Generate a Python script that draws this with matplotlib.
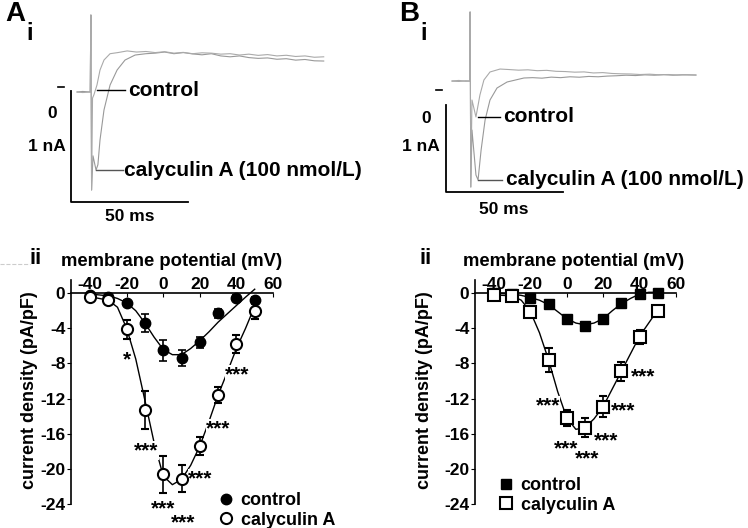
import matplotlib.pyplot as plt
from matplotlib.lines import Line2D

plt.rcParams['font.family'] = ['Liberation Sans', 'DejaVu Sans']
plt.rcParams['font.weight'] = 'bold'
plt.rcParams['font.size'] = 12
plt.rcParams['axes.unicode_minus'] = False

# ---- current-voltage data (mV, pA/pF) ----
volts = [-40, -30, -20, -10, 0, 10, 20, 30, 40, 50]

a_ctrl = [-0.2, -0.4, -1.1, -3.4, -6.5, -7.4, -5.6, -2.3, -0.5, -0.8]
a_ctrl_err = [0.2, 0.2, 0.3, 1.0, 1.2, 0.9, 0.65, 0.55, 0.3, 0.4]
a_caly = [-0.4, -0.8, -4.1, -13.3, -20.6, -21.1, -17.4, -11.6, -5.8, -2.0]
a_caly_err = [0.2, 0.3, 1.1, 2.2, 2.1, 1.5, 1.0, 0.95, 1.0, 0.9]

b_ctrl = [0.0, -0.1, -0.6, -1.25, -2.9, -3.7, -2.9, -1.1, -0.1, 0.0]
b_ctrl_err = [0.1, 0.1, 0.2, 0.2, 0.3, 0.3, 0.3, 0.2, 0.1, 0.1]
b_caly = [-0.2, -0.3, -2.1, -7.6, -14.2, -15.3, -12.95, -8.9, -4.95, -2.0]
b_caly_err = [0.1, 0.1, 0.6, 1.4, 0.95, 1.1, 1.2, 1.1, 0.8, 0.3]

# fitted curves
fit_v = [-40, -30, -25, -20, -15, -10, -5, 0, 5, 10, 15, 20, 25, 30, 35, 40, 45, 50]
a_ctrl_fit = [-0.1, -0.3, -0.6, -1.1, -2.0, -3.4, -5.0, -6.4, -7.0, -7.0, -6.3,
              -5.4, -4.4, -3.3, -2.35, -1.4, -0.45, 0.45]
a_caly_fit = [-0.4, -0.8, -1.6, -4.0, -7.5, -12.2, -17.0, -20.8, -21.8, -21.2, -19.6,
              -17.4, -14.6, -11.6, -9.0, -6.3, -4.0, -1.5]
b_ctrl_fit = [0.0, -0.1, -0.25, -0.5, -0.8, -1.3, -2.1, -2.9, -3.4, -3.6, -3.4,
              -2.9, -2.0, -1.2, -0.6, -0.1, 0.1, 0.1]
b_caly_fit = [-0.2, -0.3, -0.8, -2.1, -4.5, -7.6, -11.2, -14.2, -15.5, -15.3, -14.3,
              -12.9, -10.9, -8.9, -6.9, -4.9, -3.4, -1.9]

# significance marks (position in mV, pA/pF)
a_star_v = [-19.6, -9.3, 0.0, 10.9, 20.2, 30.0, 40.3]
a_star_y = [-7.6, -17.9, -24.6, -26.2, -21.1, -15.4, -9.3]
a_star_txt = ['*', '***', '***', '***', '***', '***', '***']
b_star_v = [-10.5, -0.5, 11.0, 21.5, 30.9, 41.9]
b_star_y = [-12.8, -17.7, -18.9, -16.8, -13.4, -9.5]

# ---- current traces (ms, nA) ----
a_caly_t = [2.6, 5.0, 8.2, 8.5, 8.8, 9.4, 10.7, 11.5, 12.4, 14.1, 16.7, 19.7, 23.1,
            27.4, 32.0, 36, 40, 44, 48, 52, 56, 60, 64, 68, 72, 76, 80, 84, 88, 92,
            96, 100, 104, 108]
a_caly_i = [-0.045, -0.04, -0.045, 0.649, -0.928, -0.62, -0.748, -0.70, -0.477, -0.207,
            0.018, 0.153, 0.243, 0.288, 0.300, 0.305, 0.315, 0.300, 0.310, 0.298, 0.290,
            0.300, 0.280, 0.272, 0.280, 0.265, 0.258, 0.262, 0.250, 0.255, 0.242, 0.248,
            0.236, 0.234]
a_ctrl_t = [2.6, 5.0, 8.2, 8.5, 8.8, 9.2, 9.8, 11.1, 12.4, 14.1, 16.7, 20, 24, 28, 32,
            36, 40, 44, 48, 52, 56, 60, 64, 68, 72, 76, 80, 84, 88, 92, 96, 100, 104, 108]
a_ctrl_i = [-0.045, -0.05, -0.045, 0.649, -0.928, -0.10, -0.07, 0.018, 0.153, 0.243,
            0.300, 0.310, 0.325, 0.315, 0.320, 0.310, 0.318, 0.305, 0.312, 0.300, 0.308,
            0.305, 0.296, 0.300, 0.288, 0.296, 0.285, 0.292, 0.280, 0.286, 0.275, 0.280,
            0.268, 0.272]

b_ctrl_t = [2.6, 5.5, 8.5, 10.1, 10.3, 10.6, 11.1, 12.8, 14.5, 16.2, 18.8, 23.1, 27,
            31, 35, 39, 43, 47, 51, 55, 59, 63, 67, 71, 75, 79, 83, 87, 91, 95, 99, 103, 106.8]
b_ctrl_i = [0.103, 0.11, 0.10, 0.103, 0.897, -1.115, -0.115, -0.31, -0.057, 0.115,
            0.207, 0.241, 0.235, 0.228, 0.232, 0.222, 0.226, 0.215, 0.212, 0.205, 0.208,
            0.196, 0.200, 0.190, 0.186, 0.184, 0.178, 0.182, 0.175, 0.178, 0.172, 0.175, 0.172]
b_caly_t = [2.6, 5.5, 8.5, 10.1, 10.3, 10.6, 11.1, 12.8, 13.7, 15.0, 16.7, 18.8, 21.8,
            26.1, 33.3, 37, 41, 45, 49, 53, 57, 61, 65, 69, 73, 77, 81, 85, 89, 93, 97,
            101, 106.8]
b_caly_i = [0.103, 0.10, 0.105, 0.103, 0.897, -1.115, -0.46, -0.977, -1.034, -0.69,
            -0.345, -0.115, 0.023, 0.092, 0.138, 0.142, 0.136, 0.148, 0.142, 0.152, 0.147,
            0.156, 0.152, 0.160, 0.164, 0.170, 0.166, 0.174, 0.170, 0.176, 0.170, 0.175, 0.172]

W, H = 748, 528
fig = plt.figure(figsize=(W / 100, H / 100), dpi=100)


def px(x, y):
    return x / W, 1 - y / H


def trace_panel(x0, ct, ci, kt, ki, xlim, ylim, bar_top, bar_bot, zmark,
                lbl0, lbl1, lbl50, cptr, kptr):
    ax = fig.add_axes([x0 / W, 1 - 225 / H, 374 / W, 225 / H])
    ax.set_xlim(xlim)
    ax.set_ylim(ylim)
    ax.axis('off')
    ax.plot(kt, ki, color='#999999', lw=0.8)
    ax.plot(ct, ci, color='#aaaaaa', lw=0.8)
    # scale bars
    ax.plot([0, 0, 50], [bar_top, bar_bot, bar_bot], color='black', lw=1.3)
    ax.plot(zmark, [0, 0], color='black', lw=1.2)
    ax.text(lbl0[0], lbl0[1], '0', ha='center', va='center', fontsize=12.5)
    ax.text(lbl1[0], lbl1[1], '1 nA', ha='center', va='center', fontsize=12.5)
    ax.text(lbl50[0], lbl50[1], '50 ms', ha='center', va='center', fontsize=12.5)
    # pointer labels
    ax.plot(cptr[0], [cptr[1], cptr[1]], color='black', lw=1.0)
    ax.text(cptr[2], cptr[1], 'control', ha='left', va='center', fontsize=15)
    ax.plot(kptr[0], [kptr[1], kptr[1]], color='#555555', lw=1.0)
    ax.text(kptr[2], kptr[1], 'calyculin A (100 nmol/L)', ha='left', va='center',
            fontsize=15)


trace_panel(0, a_ctrl_t, a_ctrl_i, a_caly_t, a_caly_i,
            (-30.34, 129.49), (-1.2432, 0.7838), -0.036, -1.036, [-5.6, -3.0],
            (-8.1, -0.243), (-10.3, -0.54), (25.2, -1.17),
            ([11.1, 23.1], -0.027, 24.4), ([10.7, 22.2], -0.748, 22.6))
trace_panel(374, b_ctrl_t, b_ctrl_i, b_caly_t, b_caly_i,
            (-30.77, 129.06), (-1.5517, 1.0345), -0.172, -1.172, [-4.3, -1.7],
            (-8.5, -0.322), (-10.7, -0.655), (24.8, -1.379),
            ([13.7, 23.1], -0.31, 24.4), ([13.7, 23.9], -1.034, 25.6))


def iv_panel(x0, x1, ctrl, ctrl_err, caly, caly_err, cfit, kfit, marker,
             sv, sy, stxt, leg_xy):
    ax = fig.add_axes([x0 / W, 1 - 504 / H, (x1 - x0) / W, 224 / H])
    ax.set_xlim(-50.4, 60)
    ax.set_ylim(-24, 1.5)
    ax.spines['bottom'].set_visible(False)
    ax.spines['right'].set_visible(False)
    ax.spines['top'].set_position(('data', 0))
    for s in ('top', 'left'):
        ax.spines[s].set_linewidth(1.2)
    ax.xaxis.tick_top()
    ax.set_xticks([-40, -20, 0, 20, 40, 60])
    ax.set_yticks([0, -4, -8, -12, -16, -20, -24])
    ax.tick_params(axis='x', direction='in', length=3, pad=1, labelsize=12.5)
    ax.tick_params(axis='y', direction='out', length=3, pad=1, labelsize=12.5)

    ax.plot(fit_v, cfit, color='black', lw=1.0, zorder=2)
    ax.plot(fit_v, kfit, color='black', lw=1.0, zorder=2)
    for v, y, t in zip(sv, sy, stxt):
        ax.text(v, y, t, ha='center', va='center', fontsize=15, zorder=2.5,
                clip_on=False,
                bbox=dict(facecolor='white', edgecolor='none', pad=0.2))
    ax.errorbar(volts, ctrl, yerr=ctrl_err, fmt=marker, color='black', mfc='black',
                ms=7.5, capsize=3, elinewidth=1.2, capthick=1.2, zorder=3)
    ax.errorbar(volts, caly, yerr=caly_err, fmt=marker, color='black', mfc='white',
                mew=1.5, ms=8, capsize=3, elinewidth=1.2, capthick=1.2, zorder=4)
    handles = [Line2D([], [], ls='none', marker=marker, color='black', mfc='black', ms=7.5),
               Line2D([], [], ls='none', marker=marker, color='black', mfc='white',
                      mew=1.5, ms=8)]
    fig.legend(handles, ['control', 'calyculin A'], loc='upper left',
               bbox_to_anchor=px(*leg_xy), frameon=False, handlelength=0.8,
               handletextpad=0.4, labelspacing=0.15, borderpad=0,
               prop={'weight': 'bold', 'size': 13})


iv_panel(71, 273, a_ctrl, a_ctrl_err, a_caly, a_caly_err, a_ctrl_fit, a_caly_fit,
         'o', a_star_v, a_star_y, a_star_txt, (210, 483))
iv_panel(475, 676, b_ctrl, b_ctrl_err, b_caly, b_caly_err, b_ctrl_fit, b_caly_fit,
         's', b_star_v, b_star_y, ['***'] * 6, (490, 468))

# panel letters and axis titles
fig.text(*px(15, 14), 'A', fontsize=20, ha='center', va='center')
fig.text(*px(30, 34), 'i', fontsize=17, ha='center', va='center')
fig.text(*px(409, 14), 'B', fontsize=20, ha='center', va='center')
fig.text(*px(424, 34), 'i', fontsize=17, ha='center', va='center')
fig.text(*px(36, 258), 'ii', fontsize=16, ha='center', va='center')
fig.text(*px(426, 258), 'ii', fontsize=16, ha='center', va='center')
fig.text(*px(172, 262), 'membrane potential (mV)', fontsize=13.3, ha='center', va='center')
fig.text(*px(574, 262), 'membrane potential (mV)', fontsize=13.3, ha='center', va='center')
fig.text(*px(30, 390), 'current density (pA/pF)', fontsize=13, rotation=90,
         ha='center', va='center')
fig.text(*px(424, 390), 'current density (pA/pF)', fontsize=13, rotation=90,
         ha='center', va='center')
fig.lines.append(Line2D([0, 30 / W], [1 - 264 / H, 1 - 264 / H], color='#cccccc',
                        lw=0.8, ls='--', transform=fig.transFigure))

fig.savefig('out.png', dpi=100)
